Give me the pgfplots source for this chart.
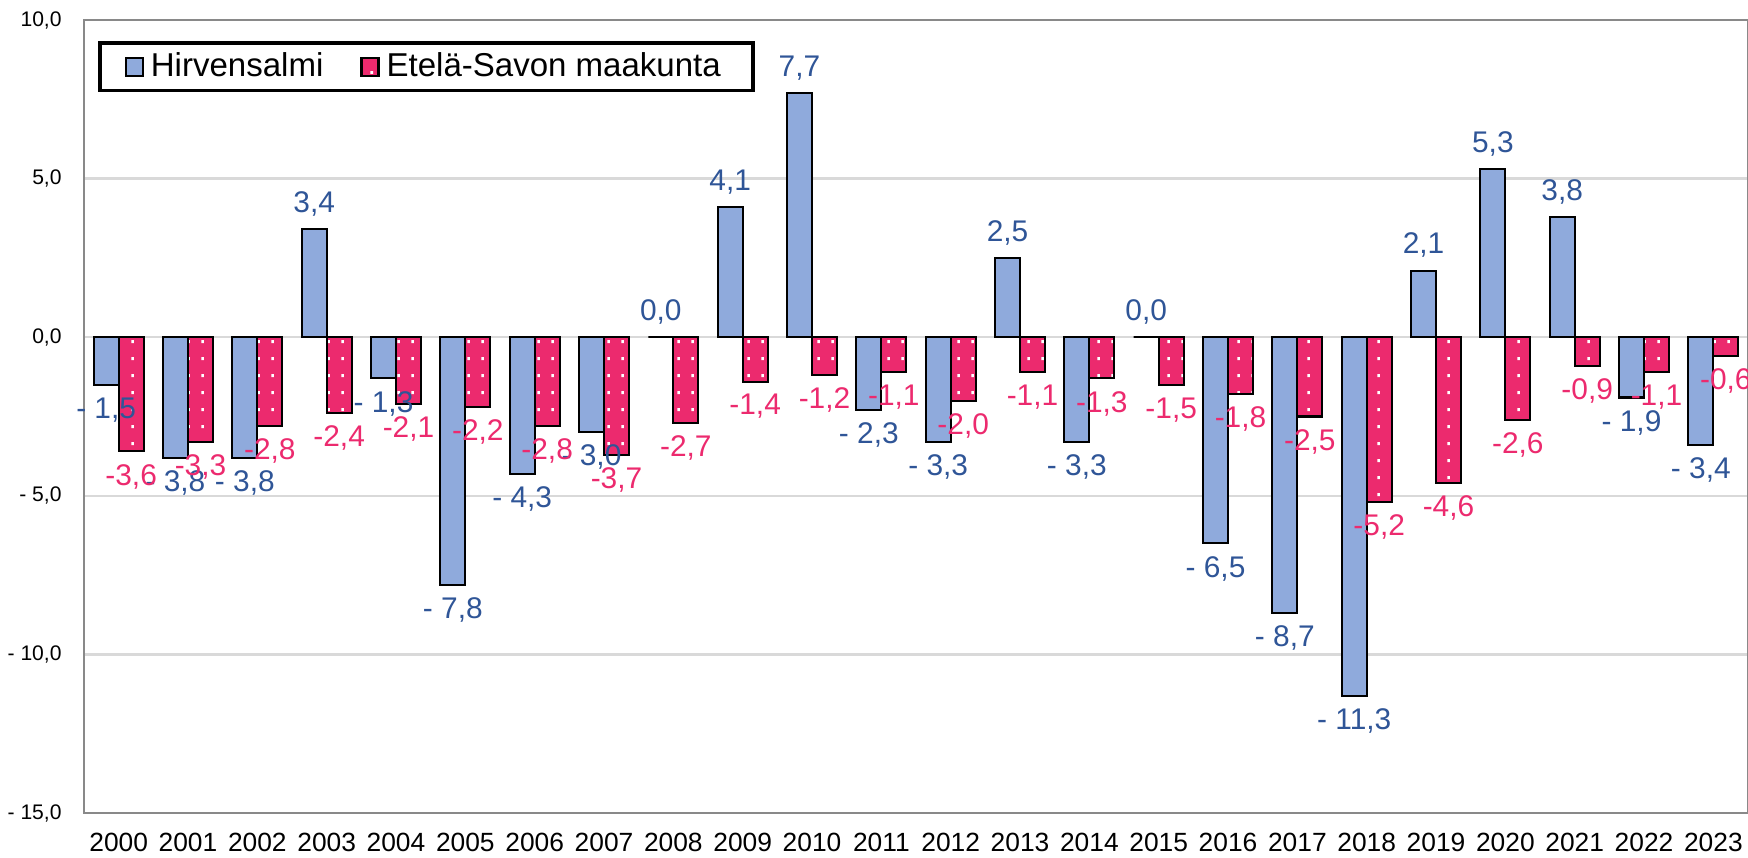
\documentclass[border=0pt]{standalone}
\usepackage{fontspec}
\setmainfont{Liberation Sans}
\usepackage{pgfplots}
\pgfplotsset{compat=1.18}
\usetikzlibrary{patterns}

\definecolor{hirvfill}{HTML}{8FAADC}
\definecolor{hirvtext}{HTML}{2F5597}
\definecolor{esfill}{HTML}{EC2A6E}
\definecolor{gridgray}{HTML}{D9D9D9}
\definecolor{axisgray}{HTML}{898989}

% sparse white dots on the pink bars
\pgfdeclarepatternformonly{exceldots}{\pgfpointorigin}{\pgfpoint{4pt}{4.8pt}}{\pgfpoint{4pt}{4.8pt}}{%
  \pgfpathrectangle{\pgfpoint{1.6pt}{2pt}}{\pgfpoint{0.8pt}{0.8pt}}\pgfusepath{fill}}

\begin{document}
\begin{tikzpicture}
\begin{axis}[
    scale only axis,
    width=16.64cm, height=7.93cm,
    ybar=0pt, bar width=0.25cm,
    xmin=-0.5, xmax=23.5, ymin=-15, ymax=10,
    xtick={0,...,23},
    xticklabels={2000,2001,2002,2003,2004,2005,2006,2007,2008,2009,2010,2011,2012,2013,2014,2015,2016,2017,2018,2019,2020,2021,2022,2023},
    ytick={-15,-10,-5,0,5,10},
    yticklabels={{- 15,0},{- 10,0},{- 5,0},{0,0},{5,0},{10,0}},
    ymajorgrids,
    grid style={draw=gridgray, line width=0.7pt},
    axis line style={draw=axisgray, line width=0.8pt},
    major tick length=0pt,
    xticklabel style={font=\fontsize{7.5}{9}\selectfont, yshift=-0.08cm},
    yticklabel style={font=\fontsize{6}{7}\selectfont, xshift=-0.1cm},
    clip=false,
    nodes near coords,
    point meta=explicit symbolic,
    visualization depends on=rawy \as \rawy,
    every node near coord/.append style={font=\fontsize{8.5}{10}\selectfont,
        anchor=\ifdim\rawy pt<0pt north\else south\fi},
    legend columns=2,
    legend style={at={(0.0084,0.973)}, anchor=north west, draw=black, line width=1pt,
        fill=white, font=\fontsize{9.4}{11}\selectfont, inner xsep=0.25cm, inner ysep=0.02cm,
        /tikz/every even column/.append style={column sep=0.3cm}},
    legend image code/.code={\draw[#1, line width=0.6pt] (0cm,-0.09cm) rectangle (0.17cm,0.09cm);},
]
\addplot[fill=hirvfill, draw=black, line width=0.6pt,
    every node near coord/.append style={text=hirvtext}] coordinates {
    (0,-1.5) [- 1,5] (1,-3.8) [- 3,8] (2,-3.8) [- 3,8] (3,3.4) [3,4]
    (4,-1.3) [- 1,3] (5,-7.8) [- 7,8] (6,-4.3) [- 4,3] (7,-3.0) [- 3,0]
    (8,0.0) [0,0] (9,4.1) [4,1] (10,7.7) [7,7] (11,-2.3) [- 2,3]
    (12,-3.3) [- 3,3] (13,2.5) [2,5] (14,-3.3) [- 3,3] (15,0.0) [0,0]
    (16,-6.5) [- 6,5] (17,-8.7) [- 8,7] (18,-11.3) [- 11,3] (19,2.1) [2,1]
    (20,5.3) [5,3] (21,3.8) [3,8] (22,-1.9) [- 1,9] (23,-3.4) [- 3,4]
};
\addplot[fill=esfill, draw=black, line width=0.6pt,
    postaction={pattern=exceldots, pattern color=white},
    every node near coord/.append style={text=esfill}] coordinates {
    (0,-3.6) [-3,6] (1,-3.3) [-3,3] (2,-2.8) [-2,8] (3,-2.4) [-2,4]
    (4,-2.1) [-2,1] (5,-2.2) [-2,2] (6,-2.8) [-2,8] (7,-3.7) [-3,7]
    (8,-2.7) [-2,7] (9,-1.4) [-1,4] (10,-1.2) [-1,2] (11,-1.1) [-1,1]
    (12,-2.0) [-2,0] (13,-1.1) [-1,1] (14,-1.3) [-1,3] (15,-1.5) [-1,5]
    (16,-1.8) [-1,8] (17,-2.5) [-2,5] (18,-5.2) [-5,2] (19,-4.6) [-4,6]
    (20,-2.6) [-2,6] (21,-0.9) [-0,9] (22,-1.1) [-1,1] (23,-0.6) [-0,6]
};
\legend{Hirvensalmi, Etelä-Savon maakunta}
\end{axis}
\pgfresetboundingbox
\path ([xshift=-0.84cm,yshift=-0.44cm]current axis.south west) rectangle ([yshift=0.2cm]current axis.north east);
\end{tikzpicture}
\end{document}
